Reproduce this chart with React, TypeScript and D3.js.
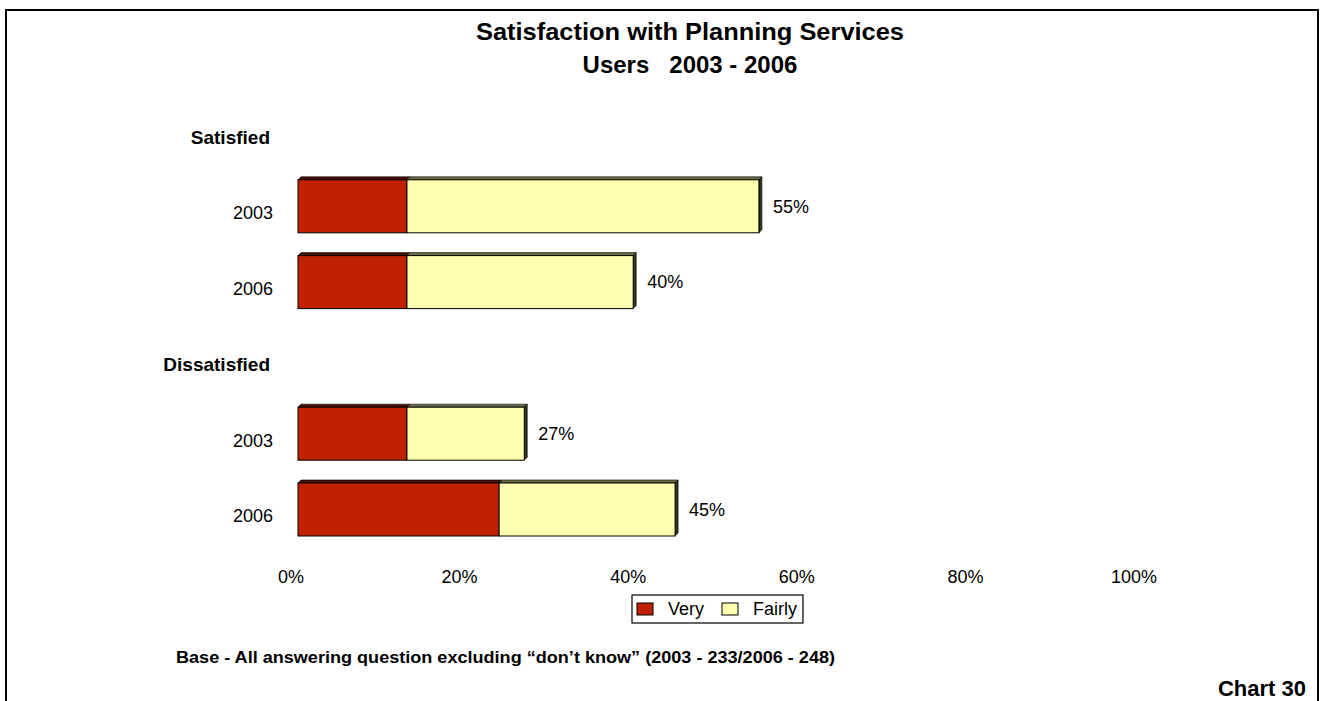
import React from "react";
import * as d3 from "d3";

const rowLabels = ["Satisfied", "2003", "2006", "Dissatisfied", "2003", "2006"];
const rowIsHeader = [true, false, false, true, false, false];
const veryValues = [null, 13, 13, null, 13, 24];
const fairlyValues = [null, 42, 27, null, 14, 21];
const totalLabels = [null, "55%", "40%", null, "27%", "45%"];
const tickValues = [0, 20, 40, 60, 80, 100];
const tickLabels = ["0%", "20%", "40%", "60%", "80%", "100%"];
const seriesNames = ["Very", "Fairly"];
const seriesColors = ["#C02200", "#FFFFB0"];
const seriesTopColors = ["#4a1000", "#6e6e48"];
const seriesSideColors = ["#2a0800", "#33331f"];

const FONT = "'Liberation Sans', Arial, Helvetica, sans-serif";

export default function App() {
  const W = 1321;
  const H = 701;
  const x = d3.scaleLinear().domain([0, 100]).range([298, 1136]);
  const xBack = d3.scaleLinear().domain([0, 100]).range([291, 1134]);
  const y = d3
    .scaleBand<number>()
    .domain(d3.range(rowLabels.length))
    .range([99.1, 99.1 + 75.8 * rowLabels.length])
    .padding(0);
  const depth = 3;

  const bars: React.ReactNode[] = [];
  rowLabels.forEach((_, i) => {
    if (rowIsHeader[i]) return;
    const c = (y(i) as number) + y.bandwidth() / 2;
    const top = c - 33;
    const bottom = c + 20;
    const vals = [veryValues[i] as number, fairlyValues[i] as number];
    let acc = 0;
    vals.forEach((v, s) => {
      const x0 = x(acc);
      const x1 = x(acc + v);
      acc += v;
      const last = s === vals.length - 1;
      bars.push(
        <g key={`b${i}-${s}`}>
          <polygon
            points={`${x0},${top} ${x0 + depth},${top - depth} ${x1 + depth},${top - depth} ${x1},${top}`}
            fill={seriesTopColors[s]}
            stroke="#000"
            strokeWidth={0.6}
          />
          {last && (
            <polygon
              points={`${x1},${top} ${x1 + depth},${top - depth} ${x1 + depth},${bottom - depth} ${x1},${bottom}`}
              fill={seriesSideColors[s]}
              stroke="#000"
              strokeWidth={0.6}
            />
          )}
          <rect
            x={x0}
            y={top}
            width={x1 - x0}
            height={bottom - top}
            fill={seriesColors[s]}
            stroke="#000"
            strokeWidth={1}
          />
        </g>
      );
    });
    bars.push(
      <text
        key={`t${i}`}
        x={x(acc) + 14}
        y={(top + bottom) / 2}
        dy="0.35em"
        fontSize={18}
        fontFamily={FONT}
        fill="#000"
      >
        {totalLabels[i]}
      </text>
    );
  });

  return (
    <svg
      width={W}
      height={H}
      style={{ position: "absolute", left: 0, top: 0, background: "#fff" }}
    >
      <rect x={0} y={0} width={W} height={H} fill="#fff" />
      <rect x={6} y={10} width={1312} height={720} fill="none" stroke="#000" strokeWidth={2} />

      <text x={690} y={32} dy="0.35em" textAnchor="middle" fontSize={24} fontWeight="bold" fontFamily={FONT} textLength={428} lengthAdjust="spacingAndGlyphs">
        Satisfaction with Planning Services
      </text>
      <text x={690} y={65} dy="0.35em" textAnchor="middle" fontSize={24} fontWeight="bold" fontFamily={FONT} style={{ whiteSpace: "pre" }}>
        {"Users   2003 - 2006"}
      </text>

      {rowLabels.map((lab, i) => (
        <text
          key={`r${i}`}
          x={rowIsHeader[i] ? 270 : 273}
          y={(y(i) as number) + y.bandwidth() / 2}
          dy="0.35em"
          textAnchor="end"
          fontSize={rowIsHeader[i] ? 19 : 18}
          fontWeight={rowIsHeader[i] ? "bold" : "normal"}
          fontFamily={FONT}
        >
          {lab}
        </text>
      ))}

      {bars}

      {tickValues.map((t, i) => (
        <text key={`x${i}`} x={xBack(t)} y={577} dy="0.35em" textAnchor="middle" fontSize={18} fontFamily={FONT}>
          {tickLabels[i]}
        </text>
      ))}

      <g>
        <rect x={632} y={595} width={171} height={28} fill="#fff" stroke="#000" strokeWidth={1.2} />
        {seriesNames.map((n, s) => {
          const sx = s === 0 ? 637 : 722;
          return (
            <g key={`l${s}`}>
              <rect x={sx} y={603} width={16} height={12} fill={seriesColors[s]} stroke="#000" strokeWidth={1} />
              <text x={sx + 31} y={609} dy="0.35em" fontSize={18} fontFamily={FONT}>
                {n}
              </text>
            </g>
          );
        })}
      </g>

      <text x={176} y={657} dy="0.35em" fontSize={16} fontWeight="bold" fontFamily={FONT} textLength={659} lengthAdjust="spacingAndGlyphs">
        Base - All answering question excluding “don’t know” (2003 - 233/2006 - 248)
      </text>
      <text x={1306} y={688} dy="0.35em" textAnchor="end" fontSize={22} fontWeight="bold" fontFamily={FONT}>
        Chart 30
      </text>
    </svg>
  );
}
